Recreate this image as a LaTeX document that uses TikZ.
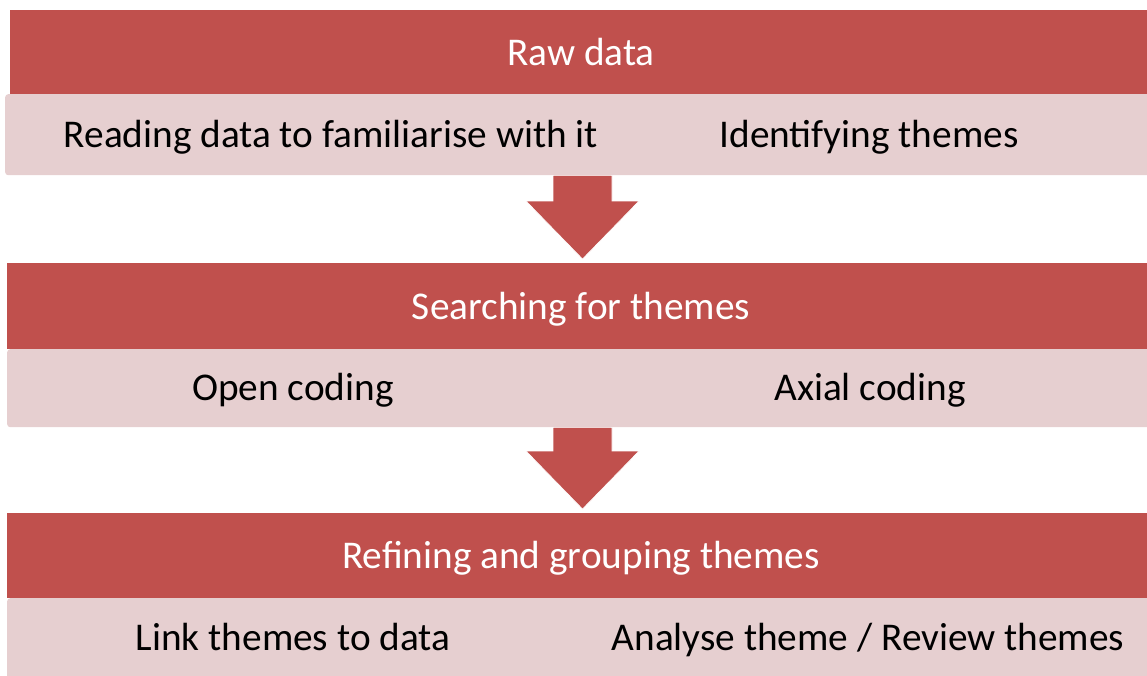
\documentclass[tikz,border=0pt]{standalone}
\usepackage{fontspec}
\setmainfont{Carlito}
\usepackage{xcolor}
\definecolor{stagered}{HTML}{C0504D}
\definecolor{stagepink}{HTML}{E6CFD0}
\usepackage{tikz}
\usetikzlibrary{positioning, calc}
% block arrow from the bottom of one bar (#1) down to the top of the next (#2)
\newcommand{\flowarrow}[2]{%
  \filldraw[stagered, draw=white, line width=0.6pt]
    ($(#1)+(-29.5,0)$) -- ($(#1)+(29.5,0)$) -- ($(#2)+(29.5,-62)$)
    -- ($(#2)+(56.5,-62)$) -- ($(#2)+(0,-4)$) -- ($(#2)+(-56.5,-62)$)
    -- ($(#2)+(-29.5,-62)$) -- cycle;}

\begin{document}
\begin{tikzpicture}[
  x=1pt, y=-1pt,
  font=\fontsize{39.3}{45}\selectfont,
  headbar/.style={anchor=north west, inner sep=0pt, fill=stagered,
                  minimum width=#1},
  subbar/.style={anchor=north west, inner sep=0pt, fill=stagepink,
                 rounded corners=3pt, minimum width=#1},
  headtxt/.style={anchor=base, text=white, inner sep=0pt},
  subtxt/.style={anchor=base, text=black, inner sep=0pt}
]
\useasboundingbox (0,0) rectangle (1147,675);

% bars
\node[headbar=1137pt, minimum height=84pt] (head1) at (10,10) {};
\node[subbar=1150pt, minimum height=81pt] (sub1) at (5,94) {};
\node[headbar=1140pt, minimum height=86pt] (head2) at (7,263) {};
\node[subbar=1145pt, minimum height=78pt] (sub2) at (7,349) {};
\node[headbar=1140pt, minimum height=85pt] (head3) at (7,513) {};
\node[subbar=1145pt, minimum height=82pt] (sub3) at (7,598) {};

% texts
\node[headtxt] (raw) at (581,65) {Raw data};
\node[subtxt] (reading) at (331,147.5) {Reading data to familiarise with it};
\node[subtxt] (identifying) at (869,147.5) {Identifying themes};
\node[headtxt] (searching) at (581,319) {Searching for themes};
\node[subtxt] (open) at (293,400.5) {Open coding};
\node[subtxt] (axial) at (870,400.5) {Axial coding};
\node[headtxt] (refining) at (581,568.5) {Refining and grouping themes};
\node[subtxt] (link) at (293,650.5) {Link themes to data};
\node[subtxt] (analyse) at (868,650.5) {Analyse theme / Review themes};

% arrows
\coordinate (axis) at (582.5,0);
\flowarrow{sub1.south -| axis}{head2.north -| axis}
\flowarrow{sub2.south -| axis}{head3.north -| axis}
\end{tikzpicture}
\end{document}
